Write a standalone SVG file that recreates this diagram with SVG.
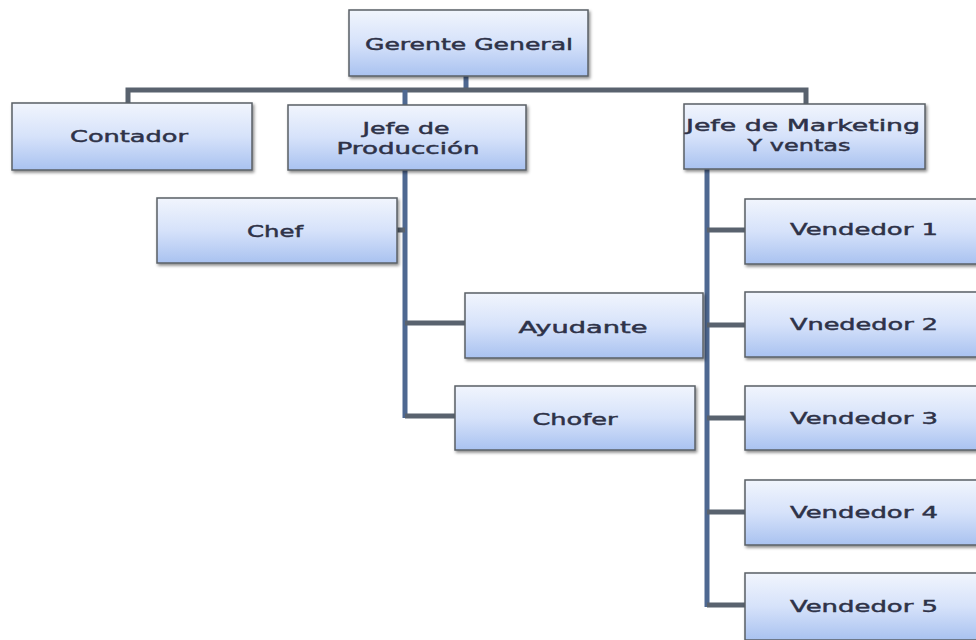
<svg xmlns="http://www.w3.org/2000/svg" width="976" height="640" viewBox="0 0 976 640">
<defs>
<linearGradient id="g" x1="0" y1="0" x2="0" y2="1">
<stop offset="0" stop-color="#f1f5fd"/>
<stop offset="0.5" stop-color="#d6e2fa"/>
<stop offset="1" stop-color="#a9c2f0"/>
</linearGradient>
<filter id="sh" x="-10%" y="-10%" width="120%" height="130%">
<feDropShadow dx="1.5" dy="2" stdDeviation="1.5" flood-color="#000" flood-opacity="0.45"/>
</filter>
</defs>
<style>
.box{fill:url(#g);stroke:#5a5f66;stroke-width:1.5;filter:url(#sh)}
.t{font-family:"DejaVu Sans",Verdana,sans-serif;font-size:16px;fill:#2e3248;stroke:#2e3248;stroke-width:0.45;text-anchor:middle}
.h{stroke:#59626e;stroke-width:5;fill:none}
.v{stroke:#4e6891;stroke-width:5;fill:none}
</style>
<rect width="976" height="640" fill="#fff"/>
<g id="connectors">
<path class="v" d="M466 76V90"/>
<path class="h" d="M128 103V90H806V104"/>
<path class="v" d="M405 90V105"/>
<path class="v" d="M405 170V418"/>
<path class="h" d="M397 230H405M405 323H465M405 416H455"/>
<path class="v" d="M707 169V607"/>
<path class="h" d="M707 230H745M707 325H745M707 418H745M707 512H745M707 605H745"/>
</g>
<g id="gerente"><rect class="box" x="349" y="10" width="239" height="66"/><text class="t" x="469" y="50" textLength="208" lengthAdjust="spacingAndGlyphs">Gerente General</text></g>
<g id="contador"><rect class="box" x="12" y="103" width="240" height="67"/><text class="t" x="129" y="142" textLength="118" lengthAdjust="spacingAndGlyphs">Contador</text></g>
<g id="jefe-produccion"><rect class="box" x="288" y="105" width="238" height="65"/><text class="t" x="406" y="134" textLength="87" lengthAdjust="spacingAndGlyphs">Jefe de</text><text class="t" x="408" y="154" textLength="143" lengthAdjust="spacingAndGlyphs">Producción</text></g>
<g id="jefe-marketing"><rect class="box" x="684" y="104" width="241" height="65"/><text class="t" x="803" y="131" textLength="234" lengthAdjust="spacingAndGlyphs">Jefe de Marketing</text><text class="t" x="799" y="151" textLength="103" lengthAdjust="spacingAndGlyphs">Y ventas</text></g>
<g id="chef"><rect class="box" x="157" y="198" width="240" height="65"/><text class="t" x="275" y="237" textLength="56" lengthAdjust="spacingAndGlyphs">Chef</text></g>
<g id="ayudante"><rect class="box" x="465" y="293" width="238" height="65"/><text class="t" x="583" y="333" textLength="129" lengthAdjust="spacingAndGlyphs">Ayudante</text></g>
<g id="chofer"><rect class="box" x="455" y="386" width="240" height="64"/><text class="t" x="575" y="425" textLength="85" lengthAdjust="spacingAndGlyphs">Chofer</text></g>
<g id="vendedor1"><rect class="box" x="745" y="199" width="240" height="65"/><text class="t" x="864" y="235" textLength="148" lengthAdjust="spacingAndGlyphs">Vendedor 1</text></g>
<g id="vendedor2"><rect class="box" x="745" y="292" width="240" height="65"/><text class="t" x="864" y="330" textLength="148" lengthAdjust="spacingAndGlyphs">Vnededor 2</text></g>
<g id="vendedor3"><rect class="box" x="745" y="386" width="240" height="64"/><text class="t" x="864" y="424" textLength="148" lengthAdjust="spacingAndGlyphs">Vendedor 3</text></g>
<g id="vendedor4"><rect class="box" x="745" y="480" width="240" height="65"/><text class="t" x="864" y="518" textLength="148" lengthAdjust="spacingAndGlyphs">Vendedor 4</text></g>
<g id="vendedor5"><rect class="box" x="745" y="573" width="240" height="67"/><text class="t" x="864" y="612" textLength="148" lengthAdjust="spacingAndGlyphs">Vendedor 5</text></g>
</svg>
